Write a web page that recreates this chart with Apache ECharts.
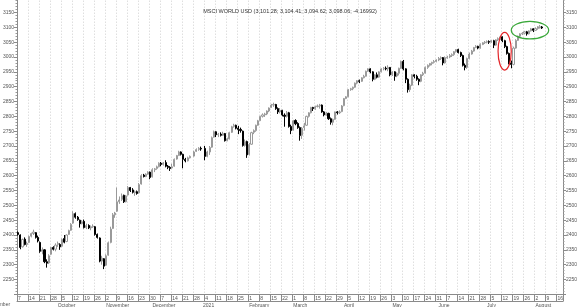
<!DOCTYPE html>
<html><head><meta charset="utf-8">
<script src="https://cdn.jsdelivr.net/npm/echarts@6/dist/echarts.min.js"></script>
<style>html,body{margin:0;padding:0;background:#fff}#c{width:580px;height:307px}</style>
</head><body><div id="c"></div><script>
const titleText = 'MSCI WORLD USD (3,101.28; 3,104.41; 3,094.62; 3,098.06; -4.16992)';
const firstDay = '2020-09-07';
const lastAxisDay = '2021-08-18';
const monthNames = ['2021','February','March','April','May','June','July','August','September','October','November','December'];
const firstMonthLabel = 'September';
const yMin = 2200, yMax = 3200, yStep = 50;

// one row per week, Mon..Fri (null = no quote)
const opens = [
2408,2400,2360,2386,2368, 2375,2396,2405,2408,2392, 2375,2345,2350,2310,2306, 2335,2358,2352,2368,2368,
2362,2388,2378,2402,2416, 2440,2472,2460,2450,2438, 2446,2425,2432,2424,2428, 2428,2402,2390,2312,2320,
2298,2332,2375,2422,2468, 2480,2512,2520,2534,2512, 2535,2560,2552,2542,2546, 2542,2572,2602,2597,2605,
2612,2596,2620,2624,2630, 2642,2638,2644,2632,2628, 2626,2632,2656,2668,2680, 2672,2655,2650,2660,null,
2666,2682,2688,2692,null, 2692,2665,2680,2696,2730, 2748,2738,2740,2736,2742, 2718,2724,2746,2766,2770,
2760,2756,2750,2702,2715, 2672,2706,2746,2752,2770, 2786,2800,2805,2808,2818, 2830,2838,2840,2826,2815,
2820,2804,2800,2812,2766, 2754,2786,2776,2762,2736, 2762,2770,2800,2812,2830, 2826,2833,2835,2838,2815,
2805,2810,2792,2780,2790, 2815,2812,2816,2836,2860, 2866,2890,2893,2898,2912, 2920,2918,2930,2935,2952,
2960,2950,2925,2940,2932, 2950,2960,2962,2960,2965, 2940,2950,2936,2945,2962, 2985,2960,2925,2890,2905,
2940,2935,2925,2918,2940, 2946,2965,2972,2978,2982, 2985,2990,2995,2998,2980, 2998,3000,3005,3008,3018,
3025,3015,3005,2972,2965, 2995,3010,3020,3032,3036, 3030,3042,3048,3050,3052, 3050,3055,3040,3058,3062,
3068,3055,3035,3012,2980, 2975,3030,3056,3070,3078, 3080,3085,3078,3088,3095, 3090,3096,3098,3101.28
];
const highs = [
2412,2402,2388,2392,2378, 2398,2408,2418,2410,2398, 2378,2358,2352,2318,2335, 2360,2362,2372,2378,2372,
2388,2400,2402,2418,2440, 2480,2476,2464,2452,2450, 2452,2438,2436,2432,2436, 2430,2405,2392,2330,2322,
2335,2378,2428,2474,2478, 2560,2530,2540,2536,2535, 2565,2562,2558,2550,2550, 2575,2605,2606,2608,2615,
2614,2625,2626,2634,2645, 2646,2646,2652,2636,2632, 2640,2658,2670,2684,2682, 2674,2660,2664,2668,null,
2684,2692,2696,2698,null, 2700,2684,2700,2732,2752, 2750,2744,2746,2748,2744, 2728,2748,2768,2775,2772,
2768,2762,2752,2722,2718, 2710,2748,2756,2772,2788, 2802,2810,2812,2820,2830, 2842,2846,2842,2830,2828,
2822,2810,2818,2815,2772, 2788,2790,2780,2766,2764, 2778,2802,2814,2832,2832, 2836,2840,2842,2840,2818,
2815,2812,2796,2792,2816, 2818,2820,2838,2862,2868, 2892,2896,2900,2914,2922, 2924,2932,2940,2954,2962,
2962,2952,2942,2948,2952, 2962,2966,2968,2972,2966, 2952,2952,2948,2964,2988, 2990,2962,2928,2910,2942,
2942,2940,2928,2942,2950, 2968,2975,2980,2984,2990, 2992,3000,3002,3000,3002, 3004,3010,3012,3020,3027,
3028,3018,3008,2978,2998, 3015,3024,3034,3040,3038, 3046,3050,3054,3056,3056, 3058,3058,3060,3066,3070,
3070,3058,3038,3015,2988, 3035,3060,3072,3080,3084, 3088,3088,3090,3098,3097, 3100,3104,3108,3104.41
];
const lows = [
2398,2352,2358,2365,2360, 2373,2392,2400,2388,2375, 2340,2335,2305,2290,2302, 2333,2348,2345,2360,2350,
2360,2372,2376,2400,2414, 2438,2455,2448,2425,2436, 2422,2420,2420,2416,2424, 2398,2388,2308,2300,2285,
2296,2330,2372,2420,2458, 2478,2505,2515,2508,2510, 2533,2545,2540,2532,2536, 2540,2570,2594,2595,2603,
2588,2594,2612,2620,2628, 2632,2634,2628,2622,2616, 2624,2630,2654,2666,2668, 2625,2645,2648,2658,null,
2664,2680,2684,2684,null, 2652,2662,2670,2694,2728, 2730,2730,2732,2734,2715, 2716,2722,2744,2762,2756,
2740,2745,2698,2698,2660, 2668,2704,2740,2748,2768, 2784,2796,2798,2804,2814, 2828,2832,2822,2808,2810,
2800,2765,2796,2762,2740, 2752,2770,2758,2718,2724, 2752,2768,2796,2810,2818, 2822,2830,2826,2812,2800,
2802,2788,2772,2770,2788, 2806,2808,2814,2834,2858, 2864,2886,2888,2896,2908, 2912,2916,2928,2934,2950,
2945,2918,2922,2928,2930, 2948,2955,2955,2952,2935, 2936,2920,2932,2938,2960, 2955,2912,2880,2882,2902,
2928,2920,2905,2915,2936, 2944,2960,2968,2972,2978, 2982,2986,2990,2972,2978, 2994,2996,3000,3004,3015,
3012,3000,2968,2955,2960, 2992,3008,3018,3030,3026, 3028,3040,3044,3046,3044, 3048,3030,3038,3054,3058,
3050,3030,3008,2975,2962, 2972,3028,3054,3066,3074, 3076,3072,3076,3086,3084, 3088,3092,3096,3094.62
];
const closes = [
2402,2358,2385,2368,2372, 2395,2405,2410,2392,2380, 2345,2350,2310,2305,2330, 2358,2352,2366,2372,2360,
2385,2376,2400,2415,2436, 2472,2460,2452,2438,2445, 2425,2432,2424,2428,2430, 2402,2392,2312,2322,2295,
2330,2374,2420,2468,2474, 2512,2518,2532,2512,2532, 2560,2550,2544,2546,2540, 2570,2600,2597,2605,2612,
2594,2620,2623,2630,2642, 2638,2643,2632,2628,2624, 2630,2655,2668,2680,2672, 2655,2650,2660,2665,null,
2680,2688,2692,2690,null, 2665,2680,2695,2728,2748, 2738,2740,2736,2742,2718, 2724,2745,2765,2770,2760,
2756,2752,2702,2715,2670, 2705,2745,2752,2770,2785, 2800,2805,2808,2818,2828, 2838,2840,2826,2815,2820,
2805,2800,2812,2766,2752, 2785,2775,2762,2735,2760, 2768,2800,2812,2830,2826, 2832,2835,2838,2815,2805,
2810,2792,2780,2790,2815, 2812,2815,2835,2860,2866, 2890,2893,2898,2912,2920, 2918,2930,2935,2952,2960,
2950,2925,2940,2932,2950, 2960,2962,2960,2965,2940, 2950,2935,2945,2962,2985, 2960,2925,2890,2905,2940,
2935,2925,2918,2940,2945, 2965,2972,2978,2982,2985, 2990,2995,2998,2980,2998, 3000,3005,3008,3018,3025,
3015,3005,2972,2965,2995, 3010,3020,3032,3036,3030, 3042,3048,3050,3052,3050, 3055,3040,3058,3062,3068,
3055,3035,3012,2980,2975, 3030,3056,3070,3078,3080, 3085,3078,3088,3095,3090, 3096,3102,3102.23,3098.06
];

// highlight rings (data extents)
const redRing = {from:'2021-07-08', to:'2021-07-16', low:2956, high:3083};
const greenRing = {from:'2021-07-16', to:'2021-08-10', low:3061, high:3120};

// weekday calendar
const dates = [];
{
  const d = new Date(firstDay + 'T00:00:00Z');
  const end = new Date(lastAxisDay + 'T00:00:00Z');
  while (d <= end) {
    const wd = d.getUTCDay();
    if (wd !== 0 && wd !== 6) dates.push(d.toISOString().slice(0,10));
    d.setUTCDate(d.getUTCDate() + 1);
  }
}
const candles = dates.slice(0, closes.length).map((t,i) =>
  opens[i] == null ? '-' : [opens[i], closes[i], lows[i], highs[i]]);

const isMonday = (i) => new Date(dates[i] + 'T00:00:00Z').getUTCDay() === 1;
const isMonthStart = (i) => i > 0 && dates[i] && dates[i].slice(5,7) !== dates[i-1].slice(5,7);

const font = 'Liberation Sans, Arial, sans-serif';
const chart = echarts.init(document.getElementById('c'), null, {renderer:'canvas'});
const yAxisBase = (pos) => ({
  type:'value', position:pos, min:yMin, max:yMax, interval:yStep, scale:true,
  axisLine:{show:true, lineStyle:{color:'#8a8a8a', width:1}},
  axisTick:{show:true, length:3, lineStyle:{color:'#8a8a8a'}},
  minorTick:{show:true, splitNumber:5, length:1.5, lineStyle:{color:'#9a9a9a'}},
  splitLine:{show:false},
  axisLabel:{show:true, fontSize:5, color:'#555', fontFamily:font, margin:3,
    formatter:(v)=>String(v), showMinLabel:false, showMaxLabel:false}
});
chart.setOption({
  animation:false,
  backgroundColor:'#ffffff',
  title:{text:titleText, left:'center', top:3,
    textStyle:{fontSize:5.5, fontWeight:'normal', color:'#333', fontFamily:font}},
  grid:{left:17, right:17, top:-2.33, height:296.67, outerBoundsMode:'none', containLabel:false},
  xAxis:[{
    type:'category', data:dates, boundaryGap:true, position:'bottom',
    axisLine:{show:true, lineStyle:{color:'#8a8a8a', width:1}},
    axisTick:{show:true, interval:(i)=>isMonday(i), length:7, lineStyle:{color:'#8a8a8a'}},
    axisLabel:{show:true, interval:(i)=>isMonday(i), formatter:(v)=>String(+v.slice(8,10)),
      fontSize:5, color:'#555', fontFamily:font, align:'left', margin:2, hideOverlap:false},
    splitLine:{show:true, interval:(i)=>isMonday(i), lineStyle:{color:'#cfcfcf', type:[1,2], width:1}}
  },{
    type:'category', data:dates, boundaryGap:true, position:'bottom', offset:7,
    axisLine:{show:true, lineStyle:{color:'#8a8a8a', width:1}},
    axisTick:{show:false},
    axisLabel:{show:true, interval:(i)=>isMonthStart(i),
      formatter:(v)=>monthNames[(+v.slice(5,7)) - 1],
      fontSize:5, color:'#555', fontFamily:font, align:'left', margin:1.5, hideOverlap:false},
    splitLine:{show:false}
  }],
  yAxis:[yAxisBase('left'), yAxisBase('right')],
  series:[{
    type:'candlestick', xAxisIndex:0, yAxisIndex:0, data:candles, barWidth:'72%',
    itemStyle:{color:'#ffffff', color0:'#000000', borderColor:'#9a9a9a', borderColor0:'#000000', borderWidth:1}
  }]
});

function px(date, val){ return chart.convertToPixel({gridIndex:0}, [date, val]); }
function ring(r, color){
  const a = px(r.from, r.high), b = px(r.to, r.low);
  return {type:'ellipse', z:100,
    shape:{cx:(a[0]+b[0])/2, cy:(a[1]+b[1])/2, rx:Math.abs(b[0]-a[0])/2, ry:Math.abs(b[1]-a[1])/2},
    style:{fill:null, stroke:color, lineWidth:1.2}};
}
const p0 = px(dates[0], yMin);
chart.setOption({graphic:[
  ring(redRing, '#e3262a'),
  ring(greenRing, '#3aa83a'),
  {type:'text', x:p0[0]-8, y:302.5, z:100,
   style:{text:firstMonthLabel, textAlign:'right', textVerticalAlign:'top', fontSize:5, fill:'#555', fontFamily:font}}
]});
</script></body></html>
